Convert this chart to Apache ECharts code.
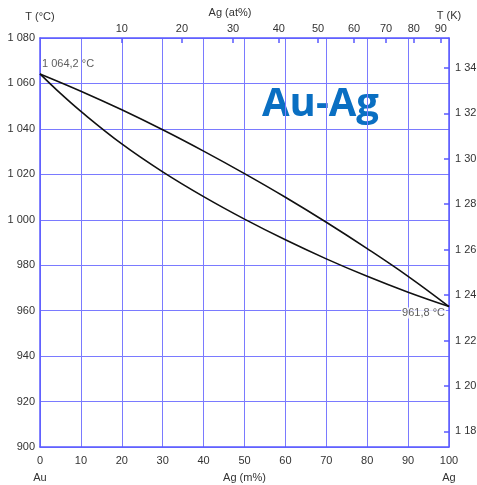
<!DOCTYPE html>
<html>
<head>
<meta charset="utf-8">
<script src="https://cdn.jsdelivr.net/npm/echarts@6/dist/echarts.min.js"></script>
<style>html,body{margin:0;padding:0;background:#fff}#c{width:477px;height:485px}</style>
</head>
<body>
<div id="c"></div>
<script>
// Liquidus (upper curve): [Ag m%, T °C]
const liquidusX = [0, 10, 20, 30, 40, 50, 60, 70, 80, 90, 100];
const liquidusT = [1064.2, 1056.6, 1048.4, 1039.6, 1030.2, 1020.3, 1009.9, 998.9, 987.3, 975.1, 961.8];
// Solidus (lower curve)
const solidusX = [0, 5, 10, 20, 30, 40, 50, 60, 70, 80, 90, 100];
const solidusT = [1064.2, 1055.6, 1047.7, 1033.4, 1021.1, 1010.2, 1000.3, 991.2, 982.8, 975.1, 968.1, 961.8];
// Melting points of pure metals
const meltX = [0, 100];
const meltT = [1064.2, 961.8];
const meltLabels = ['1 064,2 °C', '961,8 °C'];
// Top axis (at%) ticks: position on the m% scale and their labels
const topTickPos = [20, 34.7, 47.2, 58.4, 68.0, 76.8, 84.6, 91.4, 98.0];
const topTickLabels = ['10', '20', '30', '40', '50', '60', '70', '80', '90'];
// Right axis (K) ticks
const kelvinTicks = [1180, 1200, 1220, 1240, 1260, 1280, 1300, 1320, 1340];

const blue = '#5a5aff';
const gridBlue = '#7a7aff';
const txt = '#333';
const font = 'Liberation Sans, Arial, sans-serif';
const fmt = v => { const s = String(Math.round(v)); return s.length > 3 ? s.slice(0, s.length - 3) + ' ' + s.slice(-3) : s; };

const chart = echarts.init(document.getElementById('c'));
chart.setOption({
  animation: false,
  grid: { left: 40, right: 28, top: 38, bottom: 38, containLabel: false, outerBoundsMode: 'none' },
  textStyle: { fontFamily: font },
  xAxis: [
    {
      type: 'value', gridIndex: 0, position: 'bottom', min: 0, max: 100, interval: 10,
      name: 'Ag (m%)', nameLocation: 'middle', nameGap: 25,
      nameTextStyle: { color: txt, fontSize: 11, fontFamily: font },
      axisLine: { show: true, onZero: false, lineStyle: { color: blue, width: 1.5 } },
      axisTick: { show: false },
      axisLabel: { color: txt, fontSize: 11, margin: 8, fontFamily: font },
      splitLine: { show: true, lineStyle: { color: gridBlue, width: 1 } }
    },
    {
      type: 'value', gridIndex: 0, position: 'top', min: 0, max: 100,
      name: 'Ag (at%)', nameLocation: 'middle', nameGap: 17,
      nameTextStyle: { color: txt, fontSize: 11, fontFamily: font, padding: [0, 29, 0, 0] },
      axisLine: { show: true, onZero: false, lineStyle: { color: blue, width: 1.5 } },
      axisTick: { show: true, inside: true, length: 5, customValues: topTickPos, lineStyle: { color: blue, width: 1.5 } },
      axisLabel: {
        color: txt, fontSize: 11, margin: 4, fontFamily: font, customValues: topTickPos,
        formatter: v => { const i = topTickPos.findIndex(p => Math.abs(p - v) < 1e-6); return i >= 0 ? topTickLabels[i] : ''; }
      },
      splitLine: { show: false }
    }
  ],
  yAxis: [
    {
      type: 'value', gridIndex: 0, position: 'left', min: 900, max: 1080, interval: 20,
      name: 'T (°C)', nameLocation: 'end', nameGap: 16,
      nameTextStyle: { color: txt, fontSize: 11, fontFamily: font },
      axisLine: { show: true, onZero: false, lineStyle: { color: blue, width: 1.5 } },
      axisTick: { show: false },
      axisLabel: { color: txt, fontSize: 11, margin: 5, fontFamily: font, formatter: fmt },
      splitLine: { show: true, lineStyle: { color: gridBlue, width: 1 } }
    },
    {
      type: 'value', gridIndex: 0, position: 'right', min: 900 + 273.15, max: 1080 + 273.15,
      name: 'T (K)', nameLocation: 'end', nameGap: 17,
      nameTextStyle: { color: txt, fontSize: 11, fontFamily: font },
      axisLine: { show: true, onZero: false, lineStyle: { color: blue, width: 1.5 } },
      axisTick: { show: true, inside: true, length: 5, customValues: kelvinTicks, lineStyle: { color: blue, width: 1.5 } },
      axisLabel: { color: txt, fontSize: 11, margin: 6, fontFamily: font, customValues: kelvinTicks, formatter: fmt },
      splitLine: { show: false }
    }
  ],
  series: [
    {
      type: 'line', name: 'liquidus', xAxisIndex: 0, yAxisIndex: 0,
      data: liquidusX.map((x, i) => [x, liquidusT[i]]),
      smooth: 0.4, showSymbol: false, symbol: 'none',
      lineStyle: { color: '#111', width: 1.6 }
    },
    {
      type: 'line', name: 'solidus', xAxisIndex: 0, yAxisIndex: 0,
      data: solidusX.map((x, i) => [x, solidusT[i]]),
      smooth: 0.4, showSymbol: false, symbol: 'none',
      lineStyle: { color: '#111', width: 1.6 }
    },
    {
      type: 'scatter', xAxisIndex: 0, yAxisIndex: 0, symbolSize: 0, silent: true,
      data: [
        { value: [meltX[0], meltT[0]], label: { show: true, formatter: meltLabels[0], position: 'top', align: 'left', offset: [2, 1], color: txt, fontSize: 11, fontFamily: font } },
        { value: [meltX[1], meltT[1]], label: { show: true, formatter: meltLabels[1], position: 'bottom', align: 'right', offset: [-3, -4], color: txt, fontSize: 11, fontFamily: font, backgroundColor: '#fff', padding: [0, 1] } }
      ]
    }
  ],
  graphic: [
    { type: 'text', left: 262, top: 85, style: { text: 'Au-Ag', fill: '#0a6fc2', font: 'bold 40px "Open Sans", sans-serif' } },
    { type: 'text', x: 40, y: 478, style: { text: 'Au', fill: txt, font: '11px ' + font, align: 'center', verticalAlign: 'middle' } },
    { type: 'text', x: 449, y: 478, style: { text: 'Ag', fill: txt, font: '11px ' + font, align: 'center', verticalAlign: 'middle' } }
  ]
});
</script>
</body>
</html>
